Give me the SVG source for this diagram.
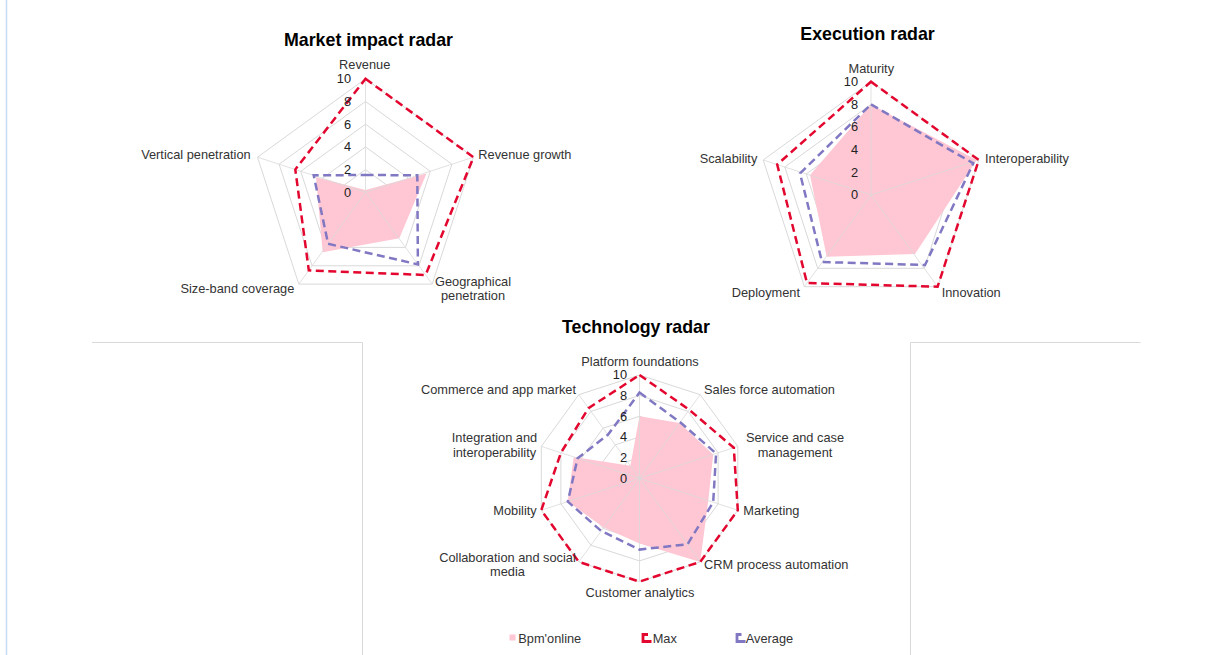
<svg xmlns="http://www.w3.org/2000/svg" width="1229" height="655" viewBox="0 0 1229 655">
<style>
  .bg { fill: #ffffff; }
  .frame { stroke: #d9d9d9; stroke-width: 1; fill: none; }
  .grid { stroke: #d9d9d9; stroke-width: 1; fill: none; }
  .spoke { stroke: #d9d9d9; stroke-width: 1; fill: none; opacity: 0.8; }
  .bpm { fill: #ffc6d3; stroke: none; }
  .avg { fill: none; stroke: #8078c2; stroke-width: 2.5; stroke-dasharray: 8 4.5; stroke-linejoin: miter; }
  .max { fill: none; stroke: #e3062e; stroke-width: 2.5; stroke-dasharray: 8 4.5; stroke-linejoin: miter; }
  .title { font-family: "Liberation Sans", Arial, sans-serif; font-size: 17.8px; font-weight: bold; fill: #000000; text-anchor: middle; }
  .lbl { font-family: "Liberation Sans", Arial, sans-serif; font-size: 12.8px; fill: #333333; }
  .tick { font-family: "Liberation Sans", Arial, sans-serif; font-size: 12.8px; fill: #222222; text-anchor: end; }
  .mid { text-anchor: middle; }
  .end { text-anchor: end; }
</style>
<rect class="bg" x="0" y="0" width="1229" height="655"/>
<line x1="6.5" y1="0" x2="6.5" y2="655" stroke="#c6daf2" stroke-width="1.5"/>
<g id="panel-frames">
  <polyline class="frame" points="92,342.5 362.5,342.5 362.5,655"/>
  <polyline class="frame" points="910.5,655 910.5,342.5 1140.5,342.5"/>
</g>

<g id="market-impact-radar">
  <text class="title" x="368.5" y="45.5">Market impact radar</text>
  <g class="grid">
    <polygon points="365.5,78.8 473.5,157.2 432.2,284.1 298.8,284.1 257.5,157.2"/>
    <polygon points="365.5,101.5 451.9,164.2 418.9,265.8 312.1,265.8 279.1,164.2"/>
    <polygon points="365.5,124.2 430.3,171.3 405.5,247.4 325.5,247.4 300.7,171.3"/>
    <polygon points="365.5,146.9 408.7,178.3 392.2,229.0 338.8,229.0 322.3,178.3"/>
    <polygon points="365.5,169.6 387.1,185.3 378.8,210.7 352.2,210.7 343.9,185.3"/>
  </g>
  <polygon class="bpm" points="365.5,190 426.5,173.5 399.3,238.3 322.7,252.3 316,177.3"/>
  <path class="spoke" d="M365.5,192.3 L365.5,78.8 M365.5,192.3 L473.5,157.2 M365.5,192.3 L432.2,284.1 M365.5,192.3 L298.8,284.1 M365.5,192.3 L257.5,157.2"/>
  <polygon class="avg" points="365.5,175 417.3,175.3 417.9,264.4 328.1,243.8 313.7,175.3"/>
  <polygon class="max" points="365.5,78.8 473.5,157.2 425.6,275.0 308.8,270.4 295.3,169.5"/>
  <g>
    <text class="tick" x="351" y="83">10</text>
    <text class="tick" x="351" y="105.8">8</text>
    <text class="tick" x="351" y="128.5">6</text>
    <text class="tick" x="351" y="151.2">4</text>
    <text class="tick" x="351" y="173.9">2</text>
    <text class="tick" x="351" y="196.6">0</text>
  </g>
  <text class="lbl mid" x="364.7" y="69.3">Revenue</text>
  <text class="lbl" x="478.3" y="159.3">Revenue growth</text>
  <text class="lbl mid" x="473" y="285.7">Geographical</text>
  <text class="lbl mid" x="473" y="300">penetration</text>
  <text class="lbl end" x="294.3" y="292.7">Size-band coverage</text>
  <text class="lbl end" x="250.7" y="159.3">Vertical penetration</text>
</g>

<g id="execution-radar">
  <text class="title" x="867.5" y="40">Execution radar</text>
  <g class="grid">
    <polygon points="871,81.7 978.8,160.0 937.6,286.7 804.4,286.7 763.2,160.0"/>
    <polygon points="871,104.4 957.2,167.0 924.3,268.3 817.7,268.3 784.8,167.0"/>
    <polygon points="871,127.0 935.7,174.0 911.0,250.0 831.0,250.0 806.3,174.0"/>
    <polygon points="871,149.7 914.1,181.0 897.6,231.7 844.4,231.7 827.9,181.0"/>
    <polygon points="871,172.3 892.6,188.0 884.3,213.3 857.7,213.3 849.4,188.0"/>
  </g>
  <polygon class="bpm" points="871,104.4 976.7,160 915,254 826.7,256.7 810,175"/>
  <path class="spoke" d="M871,195 L871,81.7 M871,195 L978.8,160.0 M871,195 L937.6,286.7 M871,195 L804.4,286.7 M871,195 L763.2,160.0"/>
  <polygon class="avg" points="871,104.4 973.3,163.3 925,265 822,262 800,173.3"/>
  <polygon class="max" points="871,81.7 978.8,160.0 937.6,286.7 807.0,283.0 777.2,164.5"/>
  <g>
    <text class="tick" x="858" y="86">10</text>
    <text class="tick" x="858" y="108.7">8</text>
    <text class="tick" x="858" y="131.3">6</text>
    <text class="tick" x="858" y="154">4</text>
    <text class="tick" x="858" y="176.6">2</text>
    <text class="tick" x="858" y="199.3">0</text>
  </g>
  <text class="lbl mid" x="871.3" y="72.7">Maturity</text>
  <text class="lbl" x="985" y="163.3">Interoperability</text>
  <text class="lbl" x="941.7" y="296.7">Innovation</text>
  <text class="lbl end" x="800" y="296.7">Deployment</text>
  <text class="lbl end" x="757.3" y="163.3">Scalability</text>
</g>

<g id="technology-radar">
  <text class="title" x="636" y="333">Technology radar</text>
  <g class="grid">
    <polygon points="639.5,375.0 700.2,394.7 737.8,446.4 737.8,510.2 700.2,561.9 639.5,581.6 578.8,561.9 541.3,510.2 541.3,446.4 578.8,394.7"/>
    <polygon points="639.5,395.4 688.1,411.4 718.1,452.8 718.1,503.8 688.1,545.2 639.5,560.9 590.9,545.2 560.9,503.8 560.9,452.8 590.9,411.4"/>
    <polygon points="639.5,416.3 675.9,428.2 698.5,459.2 698.5,497.5 675.9,528.4 639.5,540.3 603.1,528.4 580.6,497.5 580.6,459.2 603.1,428.2"/>
    <polygon points="639.5,437.0 663.8,444.9 678.8,465.5 678.8,491.1 663.8,511.7 639.5,519.6 615.2,511.7 600.2,491.1 600.2,465.5 615.2,444.9"/>
    <polygon points="639.5,457.6 651.6,461.6 659.2,471.9 659.2,484.7 651.6,495.0 639.5,499.0 627.4,495.0 619.9,484.7 619.9,471.9 627.4,461.6"/>
  </g>
  <polygon class="bpm" points="639.5,416.3 679.6,423.1 713.2,454.4 708.3,500.6 700.2,561.9 639.5,543.4 603.7,527.6 567.8,501.6 573.7,456.9 630.4,465.8"/>
  <path class="spoke" d="M639.5,478.3 L639.5,375.0 M639.5,478.3 L700.2,394.7 M639.5,478.3 L737.8,446.4 M639.5,478.3 L737.8,510.2 M639.5,478.3 L700.2,561.9 M639.5,478.3 L639.5,581.6 M639.5,478.3 L578.8,561.9 M639.5,478.3 L541.3,510.2 M639.5,478.3 L541.3,446.4 M639.5,478.3 L578.8,394.7"/>
  <polygon class="avg" points="639.5,392.6 680.2,422.3 716.1,453.4 713.2,502.2 687.5,544.3 639.5,549.6 601.2,531.0 567.8,501.6 577.6,458.2 607.9,434.8"/>
  <polygon class="max" points="639.5,375.0 689.3,409.8 733.8,447.7 737.8,510.2 700.2,561.9 639.5,581.6 578.8,561.9 541.3,510.2 560.9,452.8 588.5,408.1"/>
  <g>
    <text class="tick" x="627" y="379.3">10</text>
    <text class="tick" x="627" y="399.7">8</text>
    <text class="tick" x="627" y="420.6">6</text>
    <text class="tick" x="627" y="441.3">4</text>
    <text class="tick" x="627" y="461.9">2</text>
    <text class="tick" x="627" y="482.6">0</text>
  </g>
  <text class="lbl mid" x="640" y="366">Platform foundations</text>
  <text class="lbl" x="704" y="394">Sales force automation</text>
  <text class="lbl mid" x="795" y="441.7">Service and case</text>
  <text class="lbl mid" x="795" y="456.7">management</text>
  <text class="lbl" x="743.3" y="515">Marketing</text>
  <text class="lbl" x="704" y="569.3">CRM process automation</text>
  <text class="lbl mid" x="640" y="597.3">Customer analytics</text>
  <text class="lbl mid" x="507.5" y="561.7">Collaboration and social</text>
  <text class="lbl mid" x="507.5" y="576">media</text>
  <text class="lbl end" x="536.7" y="515">Mobility</text>
  <text class="lbl mid" x="494.5" y="441.7">Integration and</text>
  <text class="lbl mid" x="494.5" y="456.7">interoperability</text>
  <text class="lbl end" x="576" y="394">Commerce and app market</text>
</g>

<g id="legend">
  <rect x="509.5" y="634.5" width="6" height="6" fill="#ffc6d3"/>
  <text class="lbl" x="518.3" y="642.7">Bpm'online</text>
  <path d="M648,634.5 H643 V641.5 H651.5" fill="none" stroke="#e3062e" stroke-width="2.8"/>
  <text class="lbl" x="652.7" y="642.7">Max</text>
  <path d="M741.5,634.5 H737 V641.5 H745.5" fill="none" stroke="#8078c2" stroke-width="2.8"/>
  <text class="lbl" x="745.7" y="642.7">Average</text>
</g>
</svg>
